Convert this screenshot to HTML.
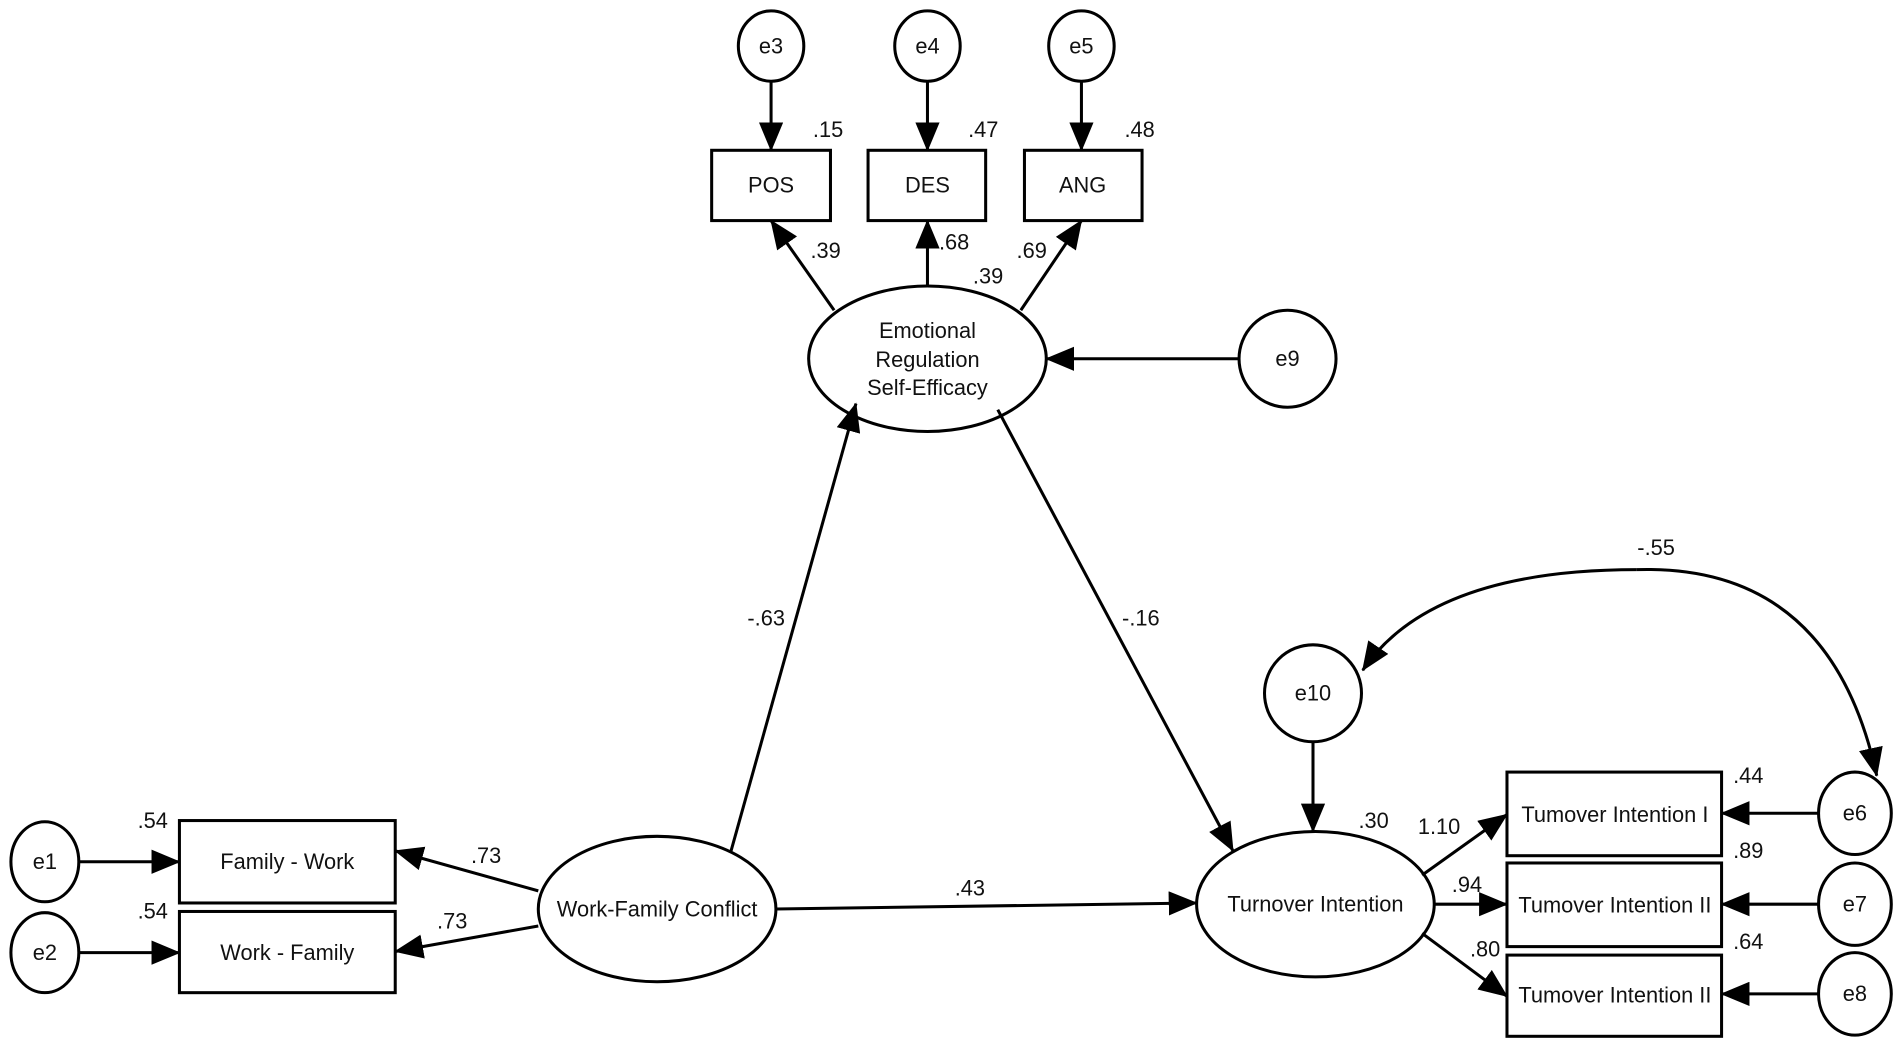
<!DOCTYPE html>
<html><head><meta charset="utf-8"><style>
html,body{margin:0;padding:0;background:#fff;width:1901px;height:1046px;overflow:hidden}
svg{display:block}
text{font-family:"Liberation Sans",sans-serif;font-size:18px;fill:#111}
</style></head><body>
<svg width="1901" height="1046" viewBox="0 0 1568 863" preserveAspectRatio="none" xmlns="http://www.w3.org/2000/svg">
<defs>
<marker id="a" markerUnits="userSpaceOnUse" markerWidth="24" markerHeight="20" refX="23" refY="10" orient="auto"><path d="M0,0 L24,10 L0,20 Z" fill="#000"/></marker>
</defs>
<g stroke="#000" stroke-width="2.5" fill="#fff">
<ellipse cx="636" cy="38" rx="27" ry="29"/>
<ellipse cx="765" cy="38" rx="27" ry="29"/>
<ellipse cx="892" cy="38" rx="27" ry="29"/>
<rect x="587" y="124" width="98" height="58"/>
<rect x="716" y="124" width="97" height="58"/>
<rect x="845" y="124" width="97" height="58"/>
<ellipse cx="765" cy="296" rx="98" ry="60"/>
<ellipse cx="1062" cy="296" rx="40" ry="40"/>
<ellipse cx="542" cy="750" rx="98" ry="60"/>
<ellipse cx="1085" cy="746" rx="98" ry="60"/>
<ellipse cx="1083" cy="572" rx="40" ry="40"/>
<rect x="1243" y="637" width="177" height="69"/>
<rect x="1243" y="712" width="177" height="69"/>
<rect x="1243" y="788" width="177" height="67"/>
<ellipse cx="1530" cy="671" rx="30" ry="34"/>
<ellipse cx="1530" cy="746" rx="30" ry="34"/>
<ellipse cx="1530" cy="820" rx="30" ry="34"/>
<rect x="148" y="677" width="178" height="68"/>
<rect x="148" y="752" width="178" height="67"/>
<ellipse cx="37" cy="711" rx="28" ry="33"/>
<ellipse cx="37" cy="786" rx="28" ry="33"/>
</g>
<g stroke="#000" stroke-width="2.5" fill="none" marker-end="url(#a)">
<line x1="636" y1="67" x2="636" y2="124"/>
<line x1="765" y1="67" x2="765" y2="124"/>
<line x1="892" y1="67" x2="892" y2="124"/>
<line x1="688" y1="256" x2="636" y2="182"/>
<line x1="765" y1="236" x2="765" y2="182"/>
<line x1="842" y1="256" x2="892" y2="182"/>
<line x1="1022" y1="296" x2="863" y2="296"/>
<line x1="603" y1="702" x2="706" y2="333"/>
<line x1="823" y1="338" x2="1017" y2="702"/>
<line x1="640" y1="750" x2="987" y2="745"/>
<line x1="1083" y1="612" x2="1083" y2="686"/>
<line x1="1173" y1="722" x2="1243" y2="672"/>
<line x1="1183" y1="746" x2="1243" y2="746"/>
<line x1="1173" y1="770" x2="1243" y2="822"/>
<line x1="1500" y1="671" x2="1420" y2="671"/>
<line x1="1500" y1="746" x2="1420" y2="746"/>
<line x1="1500" y1="820" x2="1420" y2="820"/>
<line x1="444" y1="735" x2="326" y2="702"/>
<line x1="444" y1="764" x2="326" y2="785"/>
<line x1="65" y1="711" x2="148" y2="711"/>
<line x1="65" y1="786" x2="148" y2="786"/>
<path d="M1350,470 Q1510,465 1548,640"/>
<path d="M1350,470 Q1180,470 1124,553"/>
</g>
<g text-anchor="middle">
<text x="636" y="44">e3</text><text x="765" y="44">e4</text><text x="892" y="44">e5</text>
<text x="636" y="159">POS</text><text x="765" y="159">DES</text><text x="893" y="159">ANG</text>
<text x="765" y="279">Emotional</text><text x="765" y="303">Regulation</text><text x="765" y="326">Self-Efficacy</text>
<text x="1062" y="302">e9</text>
<text x="542" y="756">Work-Family Conflict</text>
<text x="1085" y="752">Turnover Intention</text>
<text x="1083" y="578">e10</text>
<text x="1332" y="678">Tumover Intention I</text>
<text x="1332" y="753">Tumover Intention II</text>
<text x="1332" y="827">Tumover Intention II</text>
<text x="1530" y="677">e6</text><text x="1530" y="752">e7</text><text x="1530" y="826">e8</text>
<text x="237" y="717">Family - Work</text>
<text x="237" y="792">Work - Family</text>
<text x="37" y="717">e1</text><text x="37" y="792">e2</text>
<text x="683" y="113">.15</text><text x="811" y="113">.47</text><text x="940" y="113">.48</text>
<text x="681" y="213">.39</text><text x="787" y="206">.68</text><text x="851" y="213">.69</text><text x="815" y="234">.39</text>
<text x="632" y="516">-.63</text><text x="941" y="516">-.16</text>
<text x="800" y="739">.43</text>
<text x="1133" y="683">.30</text>
<text x="1187" y="688">1.10</text><text x="1210" y="736">.94</text><text x="1225" y="789">.80</text>
<text x="1442" y="646">.44</text><text x="1442" y="708">.89</text><text x="1442" y="783">.64</text>
<text x="1366" y="458">-.55</text>
<text x="126" y="683">.54</text><text x="126" y="758">.54</text>
<text x="401" y="712">.73</text><text x="373" y="766">.73</text>
</g>
</svg>
</body></html>
